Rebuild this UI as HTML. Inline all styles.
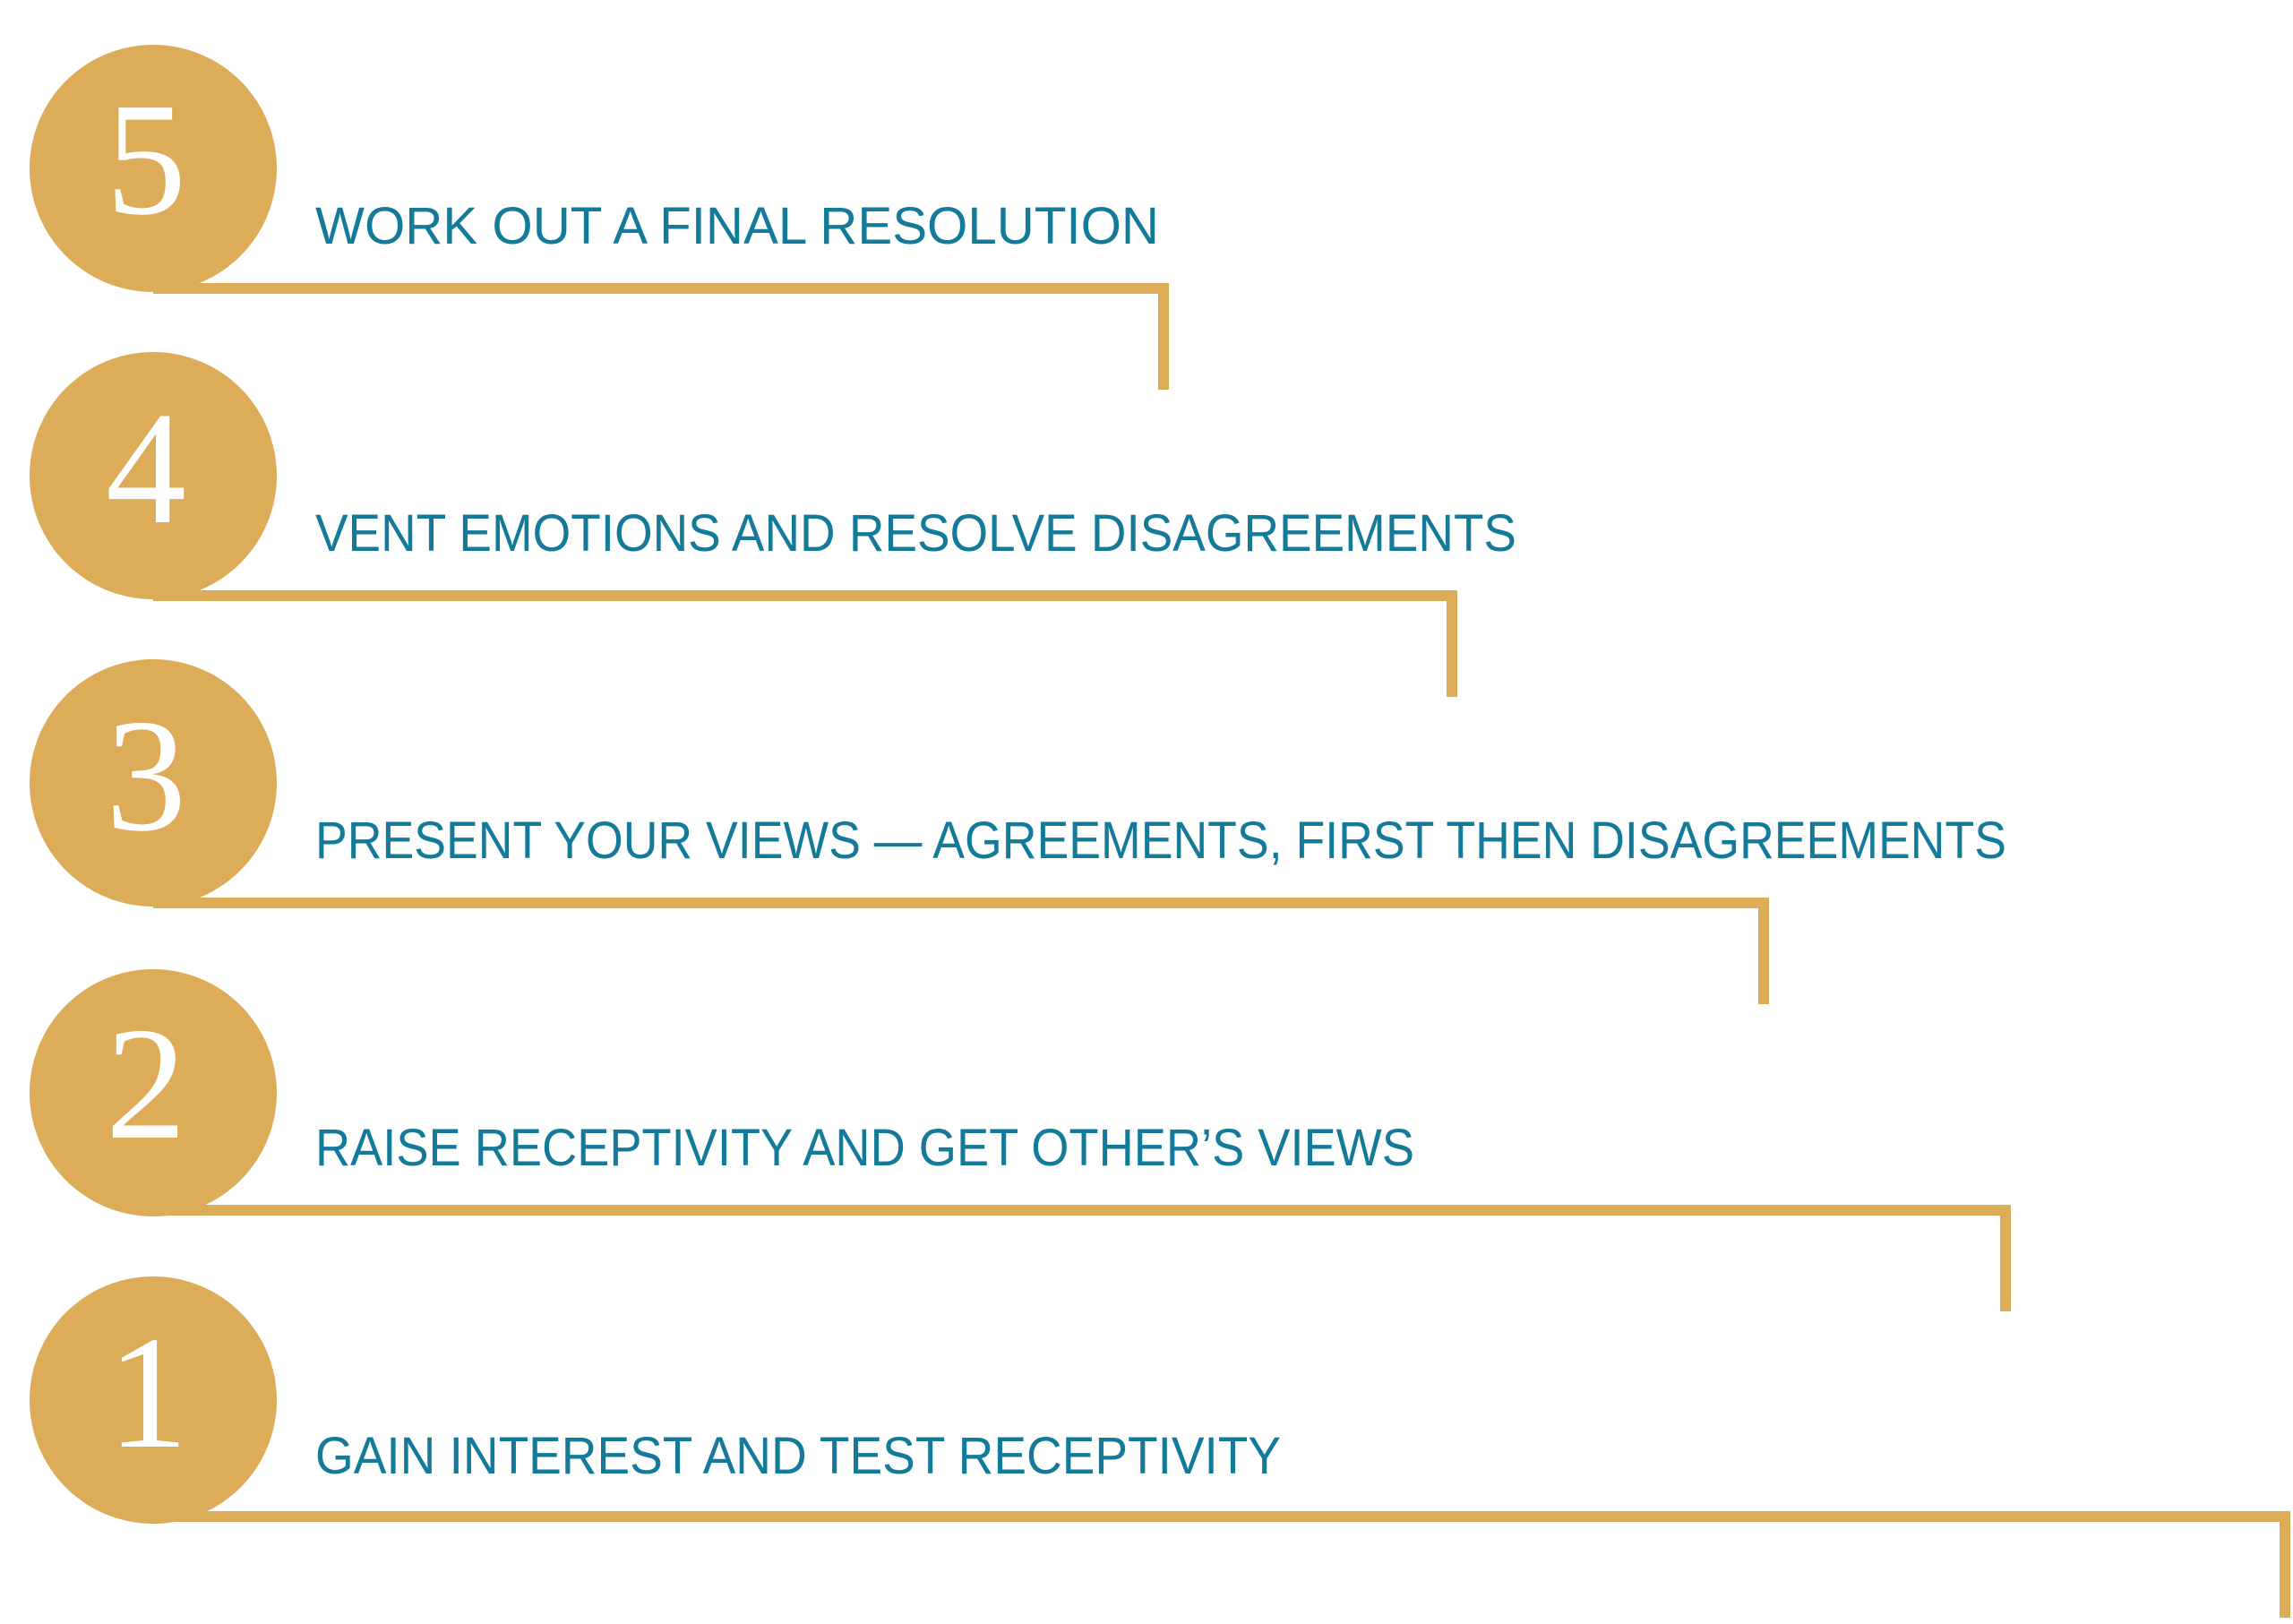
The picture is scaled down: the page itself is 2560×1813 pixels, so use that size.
<!DOCTYPE html>
<html><head><meta charset="utf-8"><style>
html,body{margin:0;padding:0;background:#fff;}
svg{display:block;}
</style></head><body>
<svg width="2560" height="1813" viewBox="0 0 2560 1813" xmlns="http://www.w3.org/2000/svg">
<g fill="#DDAC58">
  <circle cx="171" cy="188" r="138"/>
  <circle cx="171" cy="531" r="138"/>
  <circle cx="171" cy="874" r="138"/>
  <circle cx="171" cy="1220" r="138"/>
  <circle cx="171" cy="1563" r="138"/>
  <path d="M171 316 H1305 V435 H1293 V328 H171 Z"/>
  <path d="M171 659 H1627 V778 H1615 V671 H171 Z"/>
  <path d="M171 1002 H1975 V1121 H1963 V1014 H171 Z"/>
  <path d="M171 1345 H2245 V1464 H2233 V1357 H171 Z"/>
  <path d="M171 1687 H2557 V1806 H2545 V1699 H171 Z"/>
</g>
<g fill="#fff" font-family="'Liberation Serif', serif" font-size="180" text-anchor="middle">
  <text x="163" y="238">5</text>
  <text x="163" y="583">4</text>
  <text x="163" y="926">3</text>
  <text x="163" y="1270">2</text>
  <text x="165" y="1615">1</text>
</g>
<g fill="#137A9A" font-family="'Liberation Sans', sans-serif" font-size="58">
  <text x="352" y="272" textLength="942" lengthAdjust="spacingAndGlyphs">WORK OUT A FINAL RESOLUTION</text>
  <text x="352" y="615" textLength="1341" lengthAdjust="spacingAndGlyphs">VENT EMOTIONS AND RESOLVE DISAGREEMENTS</text>
  <text x="352" y="958" textLength="1888" lengthAdjust="spacingAndGlyphs">PRESENT YOUR VIEWS — AGREEMENTS, FIRST THEN DISAGREEMENTS</text>
  <text x="352" y="1301" textLength="1227" lengthAdjust="spacingAndGlyphs">RAISE RECEPTIVITY AND GET OTHER’S VIEWS</text>
  <text x="352" y="1645" textLength="1078" lengthAdjust="spacingAndGlyphs">GAIN INTEREST AND TEST RECEPTIVITY</text>
</g>
</svg>
</body></html>
